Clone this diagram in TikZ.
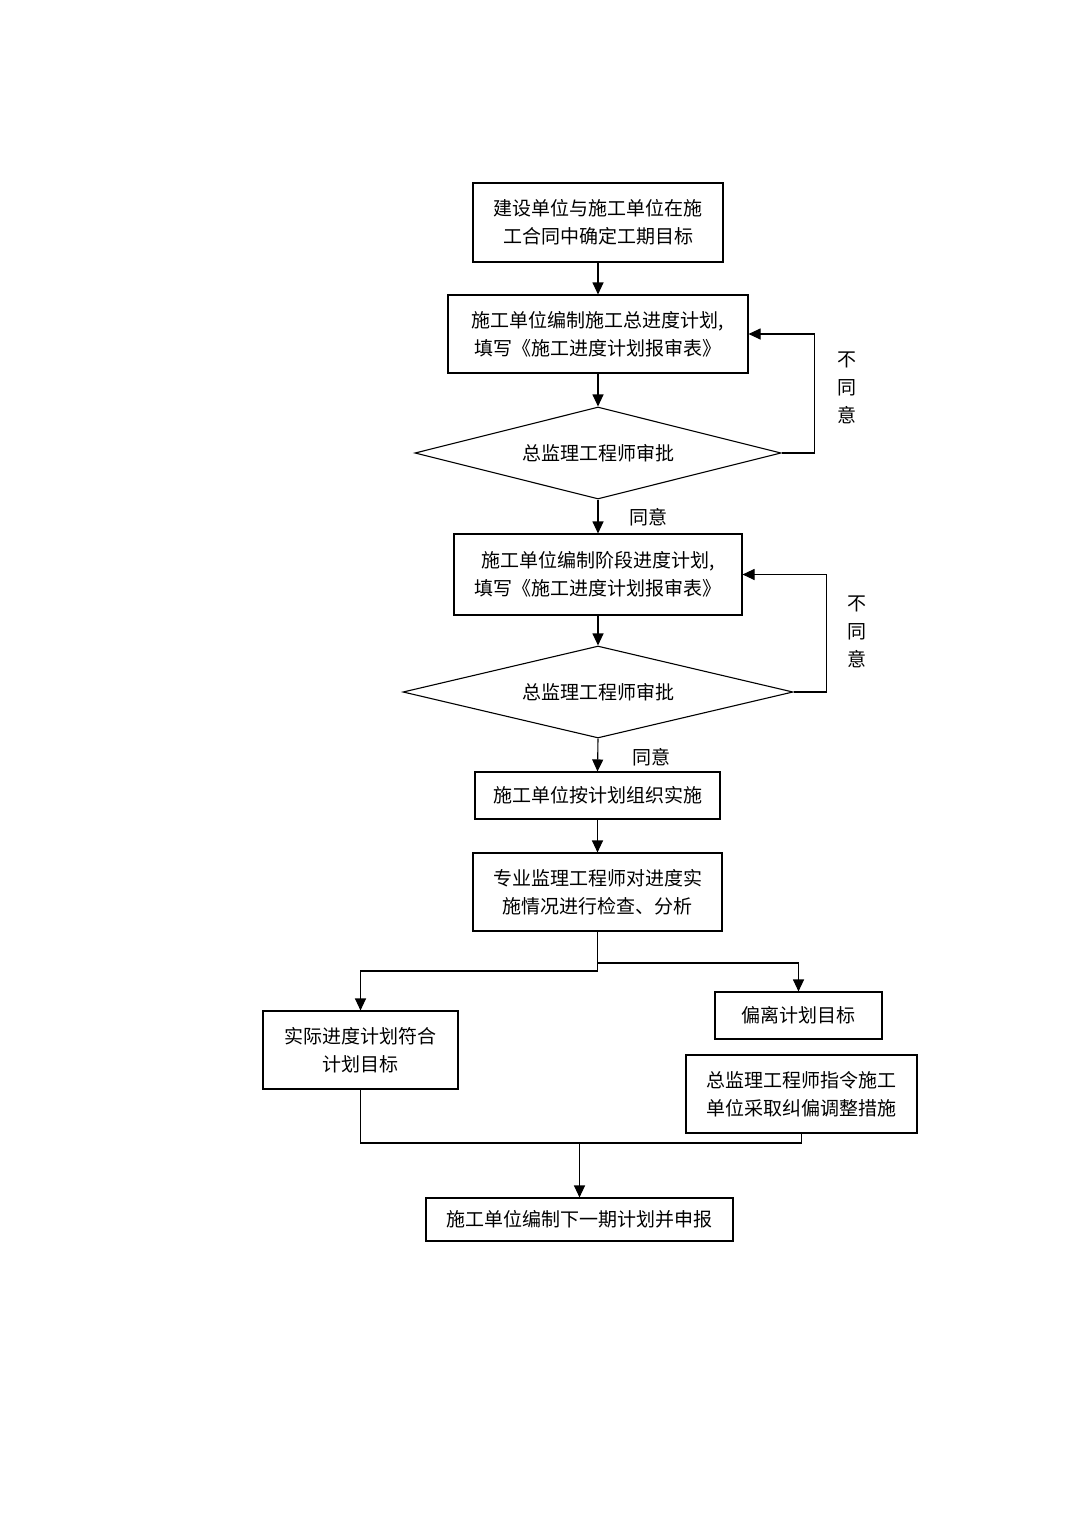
\documentclass[tikz,border=0pt]{standalone}
\usepackage{fontspec}
\setmainfont{Noto Sans CJK SC}
\usetikzlibrary{arrows.meta,shapes.geometric}
\begin{document}
\begin{tikzpicture}[x=1pt,y=-1pt,
  every node/.style={font=\fontsize{19}{28}\selectfont, text=black},
  box/.style={draw=black, line width=1.1pt, rectangle, inner sep=0pt, align=center},
  dia/.style={draw=black, line width=1.1pt, diamond, inner sep=0pt, aspect=4},
  lab/.style={inner sep=0pt, align=center},
  conn/.style={draw=black, line width=1.1pt},
  arr/.style={conn, -{Triangle[length=12pt,width=11pt]}}
]
\useasboundingbox[fill=white] (0,0) rectangle (1080,1517);

\node[box, minimum width=250, minimum height=79] (b1) at (598,222.5) {建设单位与施工单位在施\\工合同中确定工期目标};
\node[box, minimum width=300, minimum height=78] (b2) at (598,334) {施工单位编制施工总进度计划,\\填写《施工进度计划报审表》};
\node[dia, minimum width=366, minimum height=92] (d1) at (598,453) {总监理工程师审批};
\node[box, minimum width=288, minimum height=81] (b3) at (598,574.5) {施工单位编制阶段进度计划,\\填写《施工进度计划报审表》};
\node[dia, minimum width=390, minimum height=92] (d2) at (598,692) {总监理工程师审批};
\node[box, minimum width=245, minimum height=47] (b4) at (597.5,795.5) {施工单位按计划组织实施};
\node[box, minimum width=249, minimum height=78] (b5) at (597.5,892) {专业监理工程师对进度实\\施情况进行检查、分析};
\node[box, minimum width=167, minimum height=47] (b6) at (798.5,1015.5) {偏离计划目标};
\node[box, minimum width=195, minimum height=78] (b7) at (360.5,1050) {实际进度计划符合\\计划目标};
\node[box, minimum width=231, minimum height=78] (b8) at (801.5,1094) {总监理工程师指令施工\\单位采取纠偏调整措施};
\node[box, minimum width=307, minimum height=43] (b9) at (579.5,1219.5) {施工单位编制下一期计划并申报};

\node[lab] (n1) at (847,388) {不\\同\\意};
\node[lab] (n2) at (857,632) {不\\同\\意};
\node[lab] (y1) at (648,517) {同意};
\node[lab] (y2) at (651,757) {同意};

\draw[arr] (b1.south) -- (b2.north);
\draw[arr] (b2.south) -- (d1.north);
\draw[arr] (d1.east) -- ++(33,0) |- (b2.east);
\draw[arr] (d1.south) -- (b3.north);
\draw[arr] (b3.south) -- (d2.north);
\draw[arr] (d2.east) -- ++(33,0) |- (b3.east);
\draw[arr] (d2.south) -- (b4.north);
\draw[arr] (b4.south) -- (b5.north);

\coordinate (sr) at (597.5,963);
\coordinate (sl) at (597.5,971);
\draw[conn] (b5.south) -- (sl);
\draw[arr] (sr) -| (b6.north);
\draw[arr] (sl) -| (b7.north);

\coordinate (m) at (579.5,1143);
\draw[conn] (b7.south) |- (m) -| (b8.south);
\draw[arr] (m) -- (b9.north);
\end{tikzpicture}
\end{document}
